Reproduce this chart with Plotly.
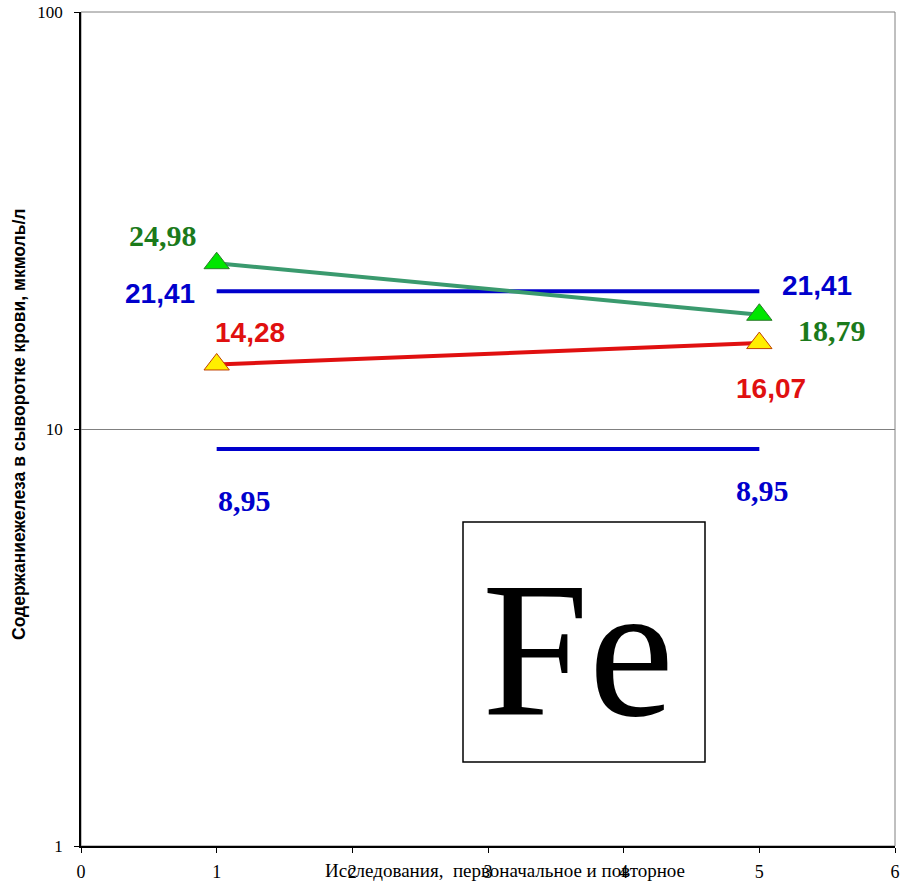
import math
import plotly.graph_objects as go

# Data
x_visits = [1, 5]
green_vals = [24.98, 18.79]
red_vals = [14.28, 16.07]
upper_norm = [21.41, 21.41]
lower_norm = [8.95, 8.95]
x_ticks = [0, 1, 2, 3, 4, 5, 6]
y_ticks = [1, 10, 100]
green_labels = ["24,98", "18,79"]
red_labels = ["14,28", "16,07"]
upper_labels = ["21,41", "21,41"]
lower_labels = ["8,95", "8,95"]

BLUE = "#0000cc"
GREEN_LINE = "#3a9a6e"
GREEN_TXT = "#1b7a1b"
RED = "#e01010"

L, R, T, B = 81, 10, 12, 40
W, H = 905, 886
PW, PH = W - L - R, H - T - B

def px_x(p):
    return (p - L) / PW

def px_y(p):
    return (H - B - p) / PH

fig = go.Figure()
fig.add_trace(go.Scatter(x=x_visits, y=upper_norm, mode="lines",
                         line=dict(color=BLUE, width=4), hoverinfo="skip"))
fig.add_trace(go.Scatter(x=x_visits, y=lower_norm, mode="lines",
                         line=dict(color=BLUE, width=4), hoverinfo="skip"))
fig.add_trace(go.Scatter(x=x_visits, y=green_vals, mode="lines+markers",
                         line=dict(color=GREEN_LINE, width=4),
                         marker=dict(symbol="triangle-up", size=22, color="#00e600",
                                     line=dict(color="#2a7a2a", width=1))))
fig.add_trace(go.Scatter(x=x_visits, y=red_vals, mode="lines+markers",
                         line=dict(color=RED, width=4),
                         marker=dict(symbol="triangle-up", size=22, color="#ffee00",
                                     line=dict(color="#c04000", width=1))))

arial_b = "Liberation Sans"
times_b = "Liberation Serif"

def lab(x, y, text, color, family, size, dx, dy):
    fig.add_annotation(x=x, y=math.log10(y), xref="x", yref="y", text="<b>%s</b>" % text,
                       showarrow=False, xshift=dx, yshift=dy,
                       font=dict(family=family, size=size, color=color))

lab(x_visits[0], green_vals[0], green_labels[0], GREEN_TXT, times_b, 30, -54, 28)
lab(x_visits[1], green_vals[1], green_labels[1], GREEN_TXT, times_b, 30, 73, -16)
lab(x_visits[0], upper_norm[0], upper_labels[0], BLUE, arial_b, 28, -57, -2)
lab(x_visits[1], upper_norm[1], upper_labels[1], BLUE, arial_b, 28, 58, 6)
lab(x_visits[0], red_vals[0], red_labels[0], RED, arial_b, 28, 33, 32)
lab(x_visits[1], red_vals[1], red_labels[1], RED, arial_b, 28, 12, -45)
lab(x_visits[0], lower_norm[0], lower_labels[0], BLUE, times_b, 30, 28, -51)
lab(x_visits[1], lower_norm[1], lower_labels[1], BLUE, times_b, 30, 3, -41)

# Plot border (gray)
fig.add_shape(type="rect", xref="paper", yref="paper", x0=0, y0=0, x1=1, y1=1,
              line=dict(color="#808080", width=1), layer="below")

# Fe box
fig.add_shape(type="rect", xref="paper", yref="paper",
              x0=px_x(463), x1=px_x(705), y0=px_y(762), y1=px_y(522),
              line=dict(color="black", width=1.5), fillcolor="white")
fig.add_annotation(x=px_x(578), y=px_y(650), xref="paper", yref="paper",
                   text="Fe", showarrow=False, yanchor="middle", xanchor="center",
                   font=dict(family="Liberation Serif", size=192, color="black"))

# Axis titles as annotations
fig.add_annotation(x=px_x(505), y=px_y(870), xref="paper", yref="paper",
                   text="Исследования,  первоначальное и повторное",
                   showarrow=False, xanchor="center", yanchor="middle",
                   font=dict(family="Liberation Serif", size=19, color="black"))
fig.add_annotation(x=px_x(19), y=px_y(425), xref="paper", yref="paper",
                   text="<b>Содержаниежелеза в сыворотке крови, мкмоль/л</b>",
                   textangle=-90, showarrow=False, xanchor="center", yanchor="middle",
                   font=dict(family="Liberation Sans", size=17.5, color="black"))

fig.update_layout(
    width=W, height=H,
    margin=dict(l=L, r=R, t=T, b=B, pad=0),
    paper_bgcolor="white", plot_bgcolor="white",
    showlegend=False,
    xaxis=dict(range=[0, 6], tickvals=x_ticks, ticks="outside", ticklen=5,
               tickcolor="black", showline=True, linecolor="black", linewidth=1.5,
               showgrid=False, zeroline=False, automargin=False, ticklabelstandoff=4,
               tickfont=dict(family="Liberation Serif", size=18, color="black")),
    yaxis=dict(type="log", range=[0, 2], tickvals=y_ticks, ticks="outside", ticklen=5,
               tickcolor="black", showline=True, linecolor="black", linewidth=1.5,
               showgrid=True, gridcolor="#808080", gridwidth=1, automargin=False,
               ticklabelstandoff=8,
               tickfont=dict(family="Liberation Serif", size=17, color="black")),
)

fig.write_html("out.html", config={"displayModeBar": False},
               post_script="document.body.style.margin='0px';")
